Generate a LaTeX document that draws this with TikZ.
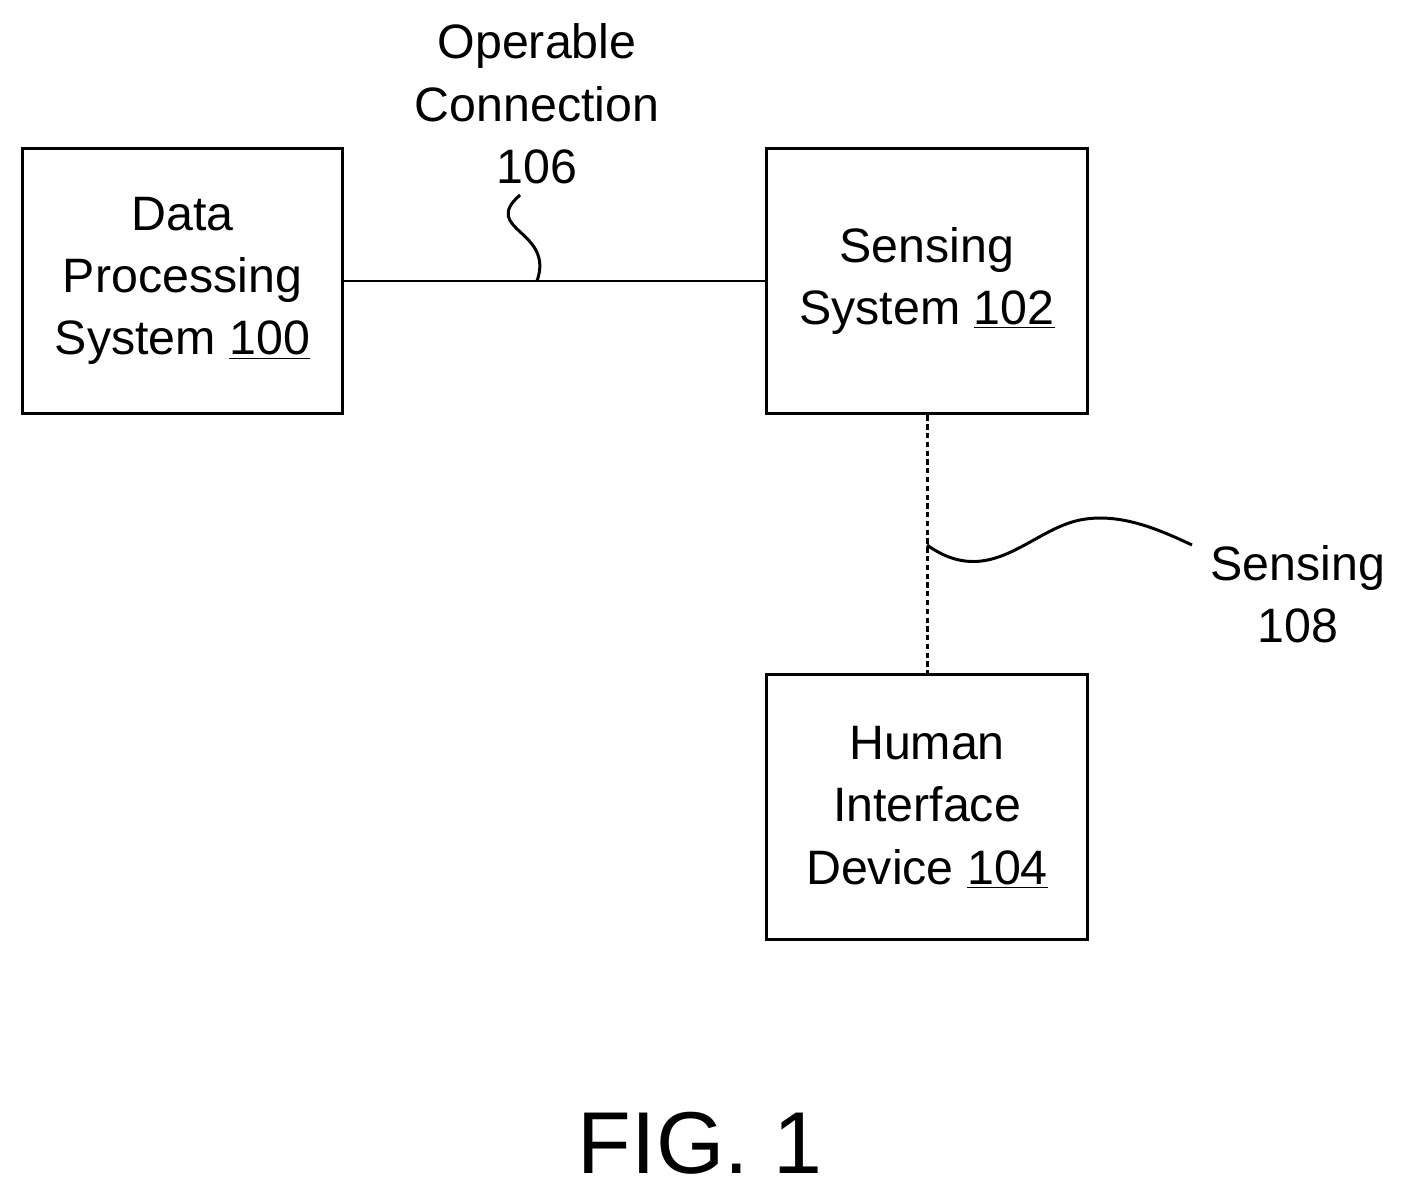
\documentclass[tikz,border=0pt]{standalone}
\usepackage{fontspec}
\setmainfont{Liberation Sans}
\usetikzlibrary{positioning}
\tikzset{
    block/.style={
        draw, line width=1.7pt,
        minimum width=6.42cm,
        minimum height=5.32cm,
        align=center,
        font=\fontsize{27.5}{35.5}\selectfont
    },
    lbl/.style={align=center, font=\fontsize{27.5}{35.5}\selectfont},
    lead/.style={line width=1.7pt},
}
\newcommand{\refnum}[1]{\underline{#1}}
\begin{document}
\begin{tikzpicture}[x=0.02cm,y=-0.02cm]
        \useasboundingbox (0,0) rectangle (1411,1196);
        \node[block] (dps) at (182.5,281) {Data\\Processing\\System \refnum{100}};
        \node[block] (sens) at (927,281) {Sensing\\System \refnum{102}};
        \node[block] (hid) at (927,807) {Human\\Interface\\Device \refnum{104}};

        \draw[lead] (dps)--(sens);
        \draw[lead, dash pattern=on 3pt off 2pt] (sens)--(hid);

        \coordinate (c1) at (537,281);
        \coordinate (c2) at (927,545);
        \node[lbl] (op) at (537,104) {Operable\\Connection\\106};
        \node[lbl] (sen) at (1298,594) {Sensing\\108};

        \draw[lead] (c1) .. controls (555,230) and (480,230) .. (520,195);
        \draw[lead] (c2) .. controls (990,590) and (1030,530) .. (1080,520)
                    .. controls (1120,512) and (1160,530) .. (1192,545);

        \node[font=\fontsize{50}{60}\selectfont] (fig) at (700,1143) {FIG. 1};
\end{tikzpicture}
\end{document}
